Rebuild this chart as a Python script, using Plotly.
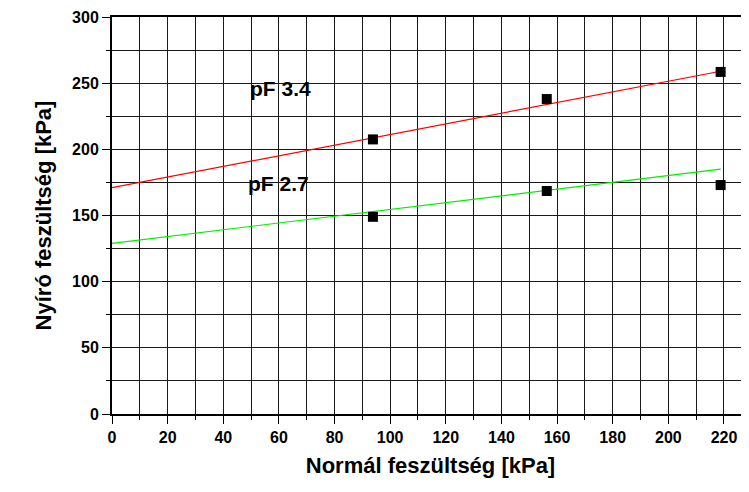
import plotly.graph_objects as go

# normal stress [kPa] and shear stress [kPa] per suction level
normal = [93.8, 156.3, 218.8]
shear_pf34 = [207.5, 238, 258.5]
shear_pf27 = [149, 168.5, 173]

# fitted lines
fit_x = [0, 218.8]
fit_pf34 = [171, 259]
fit_pf27 = [129, 185]

labels = ["pF 3.4", "pF 2.7"]
label_x = [49, 48]
label_y = [246, 174]

font = "Liberation Sans, Arial, sans-serif"

fig = go.Figure()
fig.add_trace(go.Scatter(x=fit_x, y=fit_pf34, mode="lines",
                         line=dict(color="#ff0000", width=1.2)))
fig.add_trace(go.Scatter(x=fit_x, y=fit_pf27, mode="lines",
                         line=dict(color="#00ee00", width=1.2)))
for ys in (shear_pf34, shear_pf27):
    fig.add_trace(go.Scatter(x=normal, y=ys, mode="markers",
                             marker=dict(symbol="square", size=10, color="black")))

for txt, xx, yy in zip(labels, label_x, label_y):
    fig.add_annotation(x=xx, y=yy, text=txt, showarrow=False, xanchor="left",
                       font=dict(family=font, size=21, color="black", weight="bold"))

axis_common = dict(
    showgrid=True, gridcolor="#1a1a1a", gridwidth=1,
    showline=True, linecolor="black", linewidth=2,
    ticks="outside", ticklen=8, tickcolor="black", tickwidth=1,
    tickfont=dict(family=font, size=16, color="black", weight="bold"),
    zeroline=False,
)

fig.update_xaxes(
    range=[0, 229], dtick=20, tick0=0, mirror=True,
    minor=dict(dtick=10, showgrid=True, gridcolor="#1a1a1a", ticks="outside",
               ticklen=4, tickcolor="black"),
    title=dict(text="Normál feszültség [kPa]", standoff=12,
               font=dict(family=font, size=22, color="black", weight="bold")),
    **axis_common,
)
fig.update_yaxes(
    range=[0, 300], dtick=50, tick0=0,
    minor=dict(dtick=25, showgrid=True, gridcolor="#1a1a1a", ticks="outside",
               ticklen=4, tickcolor="black"),
    title=dict(text="Nyíró feszültség [kPa]", standoff=14,
               font=dict(family=font, size=22, color="black", weight="bold")),
    **axis_common,
)

fig.update_layout(
    width=741, height=484,
    margin=dict(l=104, r=0, t=9, b=78),
    plot_bgcolor="white", paper_bgcolor="white",
    showlegend=False,
)

fig.write_html("out.html")
